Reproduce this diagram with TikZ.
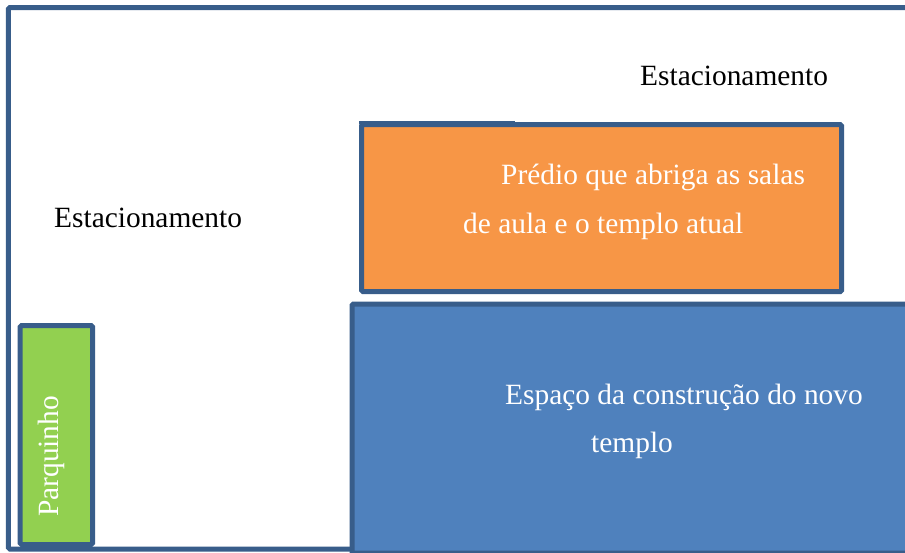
\documentclass[tikz,border=0pt]{standalone}
\usepackage{fontspec}
\setmainfont{Liberation Serif}
\definecolor{edge}{HTML}{385D8A}
\definecolor{orangefill}{HTML}{F79646}
\definecolor{bluefill}{HTML}{4F81BD}
\definecolor{greenfill}{HTML}{92D050}

\begin{document}
\begin{tikzpicture}[x=1pt,y=-1pt,
		zone/.style={draw=edge,line width=5pt,rounded corners=1.5pt,inner sep=0pt,outer sep=0pt,anchor=north west},
		place text/.style={font=\fontsize{29.4}{35}\selectfont,inner sep=0pt,anchor=base west}]
		\useasboundingbox (0,0) rectangle (905,552);
		\clip (0,0) rectangle (905,552);
		% terreno
		\node[zone, fill=white, minimum width=950, minimum height=541.5] (terreno) at (8.3,7.5) {};
		% areas
		\node[zone, fill=greenfill, minimum width=72.3, minimum height=219] (parque) at (20.2,325.5) {};
		\node[zone, fill=orangefill, minimum width=480.2, minimum height=167] (predio) at (361.5,124.5) {};
		\draw[edge, line width=3pt] ([xshift=-2.5pt,yshift=2.5pt]predio.north west) -- ++(156,0);
		\node[zone, fill=bluefill, minimum width=600, minimum height=249] (templo) at (352,304) {};
		% textos
		\node[place text] (est1) at (640,85) {Estacionamento};
		\node[place text] (est2) at (54,227) {Estacionamento};
		\node[place text, white] (predio1) at (501,184) {Prédio que abriga as salas};
		\node[place text, white] (predio2) at (463,233) {de aula e o templo atual};
		\node[place text, white] (templo1) at (505,404) {Espaço da construção do novo};
		\node[place text, white] (templo2) at (591,452) {templo};
		\node[place text, white, rotate=90] (parque1) at (58,517) {Parquinho};
\end{tikzpicture}
\end{document}
